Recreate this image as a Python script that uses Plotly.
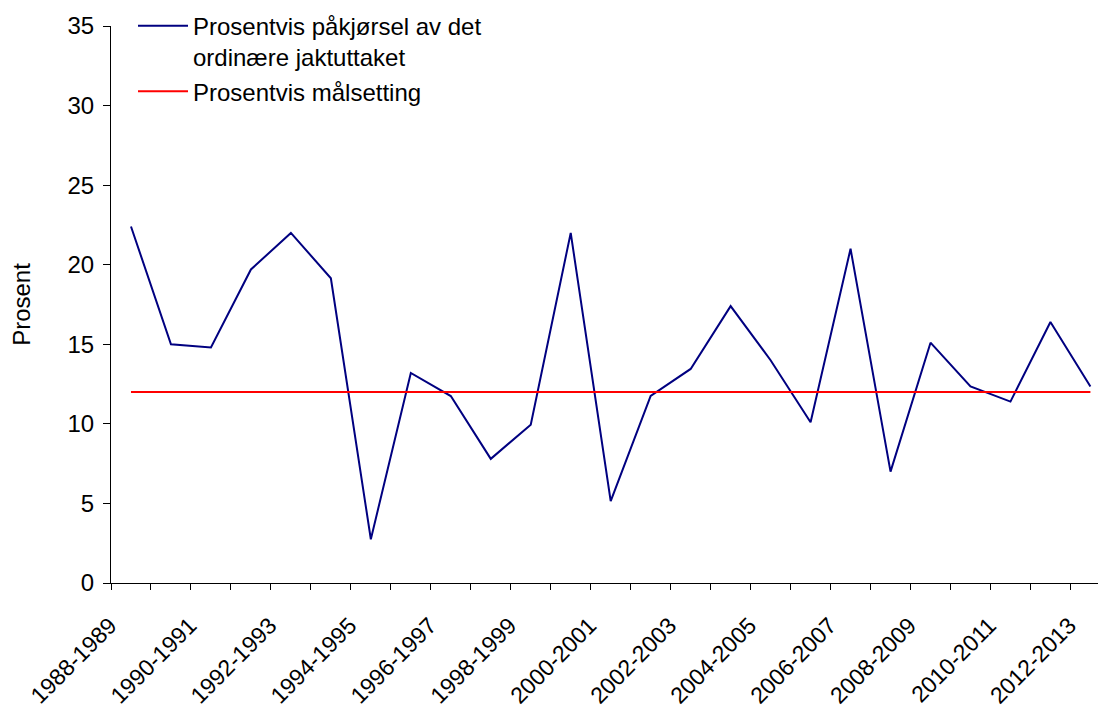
import plotly.graph_objects as go

seasons = [
    "1988-1989", "1989-1990", "1990-1991", "1991-1992", "1992-1993",
    "1993-1994", "1994-1995", "1995-1996", "1996-1997", "1997-1998",
    "1998-1999", "1999-2000", "2000-2001", "2001-2002", "2002-2003",
    "2003-2004", "2004-2005", "2005-2006", "2006-2007", "2007-2008",
    "2008-2009", "2009-2010", "2010-2011", "2011-2012", "2012-2013",
]
pakjorsel = [
    22.4, 15.0, 14.8, 19.7, 22.0, 19.15, 2.75, 13.2, 11.75, 7.8,
    9.95, 22.0, 5.15, 11.75, 13.45, 17.4, 14.0, 10.1, 21.0, 7.0,
    15.1, 12.35, 11.4, 16.4, 12.35,
]
malsetting = [12] * len(seasons)

name_series = "Prosentvis påkjørsel av det<br>ordinære jaktuttaket"
name_target = "Prosentvis målsetting"
y_title = "Prosent"

idx = list(range(len(seasons)))
FONT = "Liberation Sans, Arial, sans-serif"
FS = 24

# page body has an 8px margin, so the figure is offset by 8px
W, H = 1098, 707
L, R, T = 103, 0, 18
B = H - (583 - 8)
PW = W - L - R

fig = go.Figure()
fig.add_trace(go.Scatter(x=idx, y=pakjorsel, mode="lines", name=name_series,
                         line=dict(color="#000080", width=2)))
fig.add_trace(go.Scatter(x=idx, y=malsetting, mode="lines", name=name_target,
                         line=dict(color="#FF0000", width=2)))

fig.update_layout(
    width=W, height=H,
    margin=dict(l=L, r=R, t=T, b=B, pad=0, autoexpand=False),
    paper_bgcolor="white", plot_bgcolor="white",
    font=dict(family=FONT, size=FS, color="black"),
    showlegend=True,
    legend=dict(x=22 / PW, y=1.04, xref="paper", yref="paper",
                xanchor="left", yanchor="top", valign="top",
                bgcolor="rgba(0,0,0,0)", font=dict(size=FS),
                itemwidth=50, tracegroupgap=0),
)
fig.update_xaxes(
    range=[-0.5, 24.39], showgrid=False, zeroline=False,
    showline=True, linecolor="black", linewidth=1,
    tickmode="array", tickvals=idx[::2], ticktext=seasons[::2],
    ticks="", tickangle=-45, tickfont=dict(size=23),
    ticklabelstandoff=19, ticklabelshift=-21,
    minor=dict(ticks="outside", ticklen=6, tickcolor="black", tickwidth=1,
               tick0=0.5, dtick=1, showgrid=False),
)
fig.update_yaxes(
    range=[0, 35], dtick=5, tick0=0, showgrid=False, zeroline=False,
    showline=True, linecolor="black", linewidth=1,
    ticks="outside", ticklen=7, tickcolor="black",
    tickfont=dict(size=FS), ticklabelstandoff=4,
    title=dict(text=y_title, font=dict(size=FS), standoff=30),
)

fig.write_html("out.html")
